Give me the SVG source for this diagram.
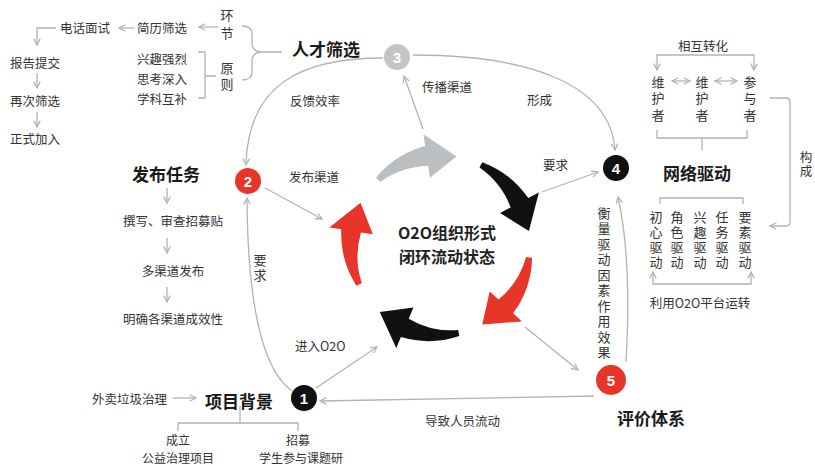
<svg xmlns="http://www.w3.org/2000/svg" width="815" height="465" viewBox="0 0 815 465">
<style>
text{font-family:'Noto Sans CJK SC','Noto Sans',sans-serif;fill:#333;font-size:12.5px;dominant-baseline:central}
.t{font-size:17px;font-weight:bold;fill:#1a1a1a}
.m{text-anchor:middle}
.s{font-size:12px}
.vt{writing-mode:vertical-rl;font-size:13px}
.ctr{font-size:16px;font-weight:bold;fill:#222;text-anchor:middle}
.ln{fill:none;stroke:#b3b3b3;stroke-width:1.3}
.ar{marker-end:url(#ah)}
.ar2{marker-start:url(#ah);marker-end:url(#ah)}
.num{fill:#fff;font-size:15px;font-weight:bold;text-anchor:middle;font-family:'Liberation Sans',Arial,sans-serif}
</style>
<defs>
<marker id="ah" viewBox="0 0 10 10" refX="9" refY="5" markerWidth="8" markerHeight="8" markerUnits="userSpaceOnUse" orient="auto-start-reverse">
<path d="M1,1 L9,5 L1,9" fill="none" stroke="#b3b3b3" stroke-width="1.6"/>
</marker>
<path id="carrow" d="M82.86,-42.22 Q99.8,-16.7 99.03,13.92 L110.91,15.59 L80.19,40.86 L67.34,9.47 L79.22,11.14 Q86.35,-14.45 77.52,-39.5 Z"/>
</defs>
<rect width="815" height="465" fill="#fff"/>

<g id="cycle">
<use href="#carrow" fill="#bcbfc1" transform="translate(440,245) rotate(-106.5)"/>
<use href="#carrow" fill="#111" transform="translate(440,245) rotate(-36)"/>
<use href="#carrow" fill="#e8352a" transform="translate(440,245) rotate(35)"/>
<use href="#carrow" fill="#111" transform="translate(440,245) rotate(105)"/>
<use href="#carrow" fill="#e8352a" transform="translate(440,245) rotate(181)"/>
<text class="ctr" x="447" y="232">O2O组织形式</text>
<text class="ctr" x="447" y="256">闭环流动状态</text>
</g>

<g id="connectors">
<path class="ln ar" d="M292,391 Q248,360 247,198"/>
<path class="ln ar" d="M316,388 L377,347"/>
<path class="ln ar" d="M594,396 L320,401"/>
<path class="ln ar" d="M525,327 L578,370"/>
<path class="ln ar" d="M626,362 Q632,260 618,197"/>
<path class="ln ar" d="M542,192 L598,172"/>
<path class="ln ar" d="M423,129 L404,76"/>
<path class="ln ar" d="M413,55 C520,55 610,80 615,150"/>
<path class="ln ar" d="M383,58 C300,58 248,85 246,165"/>
<path class="ln ar" d="M265,188 L322,219"/>
<text class="vt" x="260" y="253.5" letter-spacing="2">要求</text>
<text x="295" y="345">进入O2O</text>
<text x="425" y="420">导致人员流动</text>
<text x="543" y="164">要求</text>
<text x="422" y="86">传播渠道</text>
<text x="527" y="99">形成</text>
<text x="290" y="100">反馈效率</text>
<text x="289" y="176">发布渠道</text>
<text class="vt" x="604" y="206.5" letter-spacing="2.5">衡量驱动因素作用效果</text>
</g>

<g id="n1"><circle cx="304" cy="398" r="13" fill="#111"/><text class="num" x="304" y="398">1</text></g>
<g id="n2"><circle cx="248" cy="181" r="13" fill="#e8352a"/><text class="num" x="248" y="181">2</text></g>
<g id="n3"><circle cx="397" cy="57" r="13" fill="#c4c4c4"/><text class="num" x="397" y="57">3</text></g>
<g id="n4"><circle cx="616" cy="168" r="13" fill="#111"/><text class="num" x="616" y="168">4</text></g>
<g id="n5"><circle cx="611" cy="380" r="15" fill="#e8352a"/><text class="num" x="611" y="380">5</text></g>

<g id="talent-screening">
<text class="t" x="292" y="48">人才筛选</text>
<path class="ln" d="M282,52 L262,52 Q252,52 252,42 L252,34 Q252,26 242,26 M262,52 Q252,52 252,62 L252,72 Q252,80 242,80"/>
<text class="vt" x="227" y="8.5" letter-spacing="5">环节</text>
<text class="vt" x="227" y="61.5" letter-spacing="3">原则</text>
<path class="ln ar" d="M218,27 L199,27"/>
<text x="137" y="27">简历筛选</text>
<path class="ln ar" d="M134,28 L119,28"/>
<text x="60" y="27">电话面试</text>
<path class="ln ar" d="M56,28 L37,28 L37,45"/>
<text x="10" y="62">报告提交</text>
<path class="ln ar" d="M37,73 L37,88"/>
<text x="10" y="100">再次筛选</text>
<path class="ln ar" d="M37,112 L37,127"/>
<text x="10" y="138">正式加入</text>
<text x="137" y="58">兴趣强烈</text>
<text x="137" y="78">思考深入</text>
<text x="137" y="98">学科互补</text>
<path class="ln" d="M198,52 H205 V98 H198 M205,76 H216"/>
</g>

<g id="publish-task">
<text class="t" x="132" y="173">发布任务</text>
<path class="ln ar" d="M167,188 L167,203"/>
<text class="m" x="173" y="220">撰写、审查招募贴</text>
<path class="ln ar" d="M167,238 L167,253"/>
<text class="m" x="173" y="270">多渠道发布</text>
<path class="ln ar" d="M167,287 L167,302"/>
<text class="m" x="173" y="318">明确各渠道成效性</text>
</g>

<g id="project-background">
<text x="92" y="398">外卖垃圾治理</text>
<path class="ln ar" d="M173,398 L196,398"/>
<text class="t" x="205" y="400">项目背景</text>
<path class="ln" d="M240,406 V423 M178,431 V423 H298 V431"/>
<text class="m s" x="178" y="439">成立</text>
<text class="m s" x="178" y="457">公益治理项目</text>
<text class="m s" x="298" y="439">招募</text>
<text class="m s" x="301" y="457">学生参与课题研</text>
</g>

<g id="network-drive">
<text class="m" x="703" y="45">相互转化</text>
<path class="ln ar2" d="M657,70 V55 H754 V70"/>
<text class="vt" x="658" y="75.5" letter-spacing="3.5">维护者</text>
<text class="vt" x="702" y="75.5" letter-spacing="3.5">维护者</text>
<text class="vt" x="750" y="75.5" letter-spacing="3.5">参与者</text>
<path class="ln ar2" d="M672,81 H690"/>
<path class="ln ar2" d="M715,81 H737"/>
<path class="ln" d="M657,130 V138 H747 V130 M702,138 V150"/>
<text class="t" x="663" y="172">网络驱动</text>
<path class="ln" d="M660,204 V198 H743 V204"/>
<text class="vt" x="656" y="210.5" letter-spacing="2">初心驱动</text>
<text class="vt" x="677" y="210.5" letter-spacing="2">角色驱动</text>
<text class="vt" x="700" y="210.5" letter-spacing="2">兴趣驱动</text>
<text class="vt" x="722" y="210.5" letter-spacing="2">任务驱动</text>
<text class="vt" x="745" y="210.5" letter-spacing="2">要素驱动</text>
<path class="ln ar2" d="M653,272 V284 H751 V272"/>
<text class="m" x="700" y="302">利用O2O平台运转</text>
<path class="ln ar" d="M770,98 H786 Q790,98 790,102 V222 Q790,226 786,226 H770"/>
<text class="vt" x="806" y="150.5" letter-spacing="1.5" style="font-size:12.5px">构成</text>
</g>

<g id="evaluation">
<text class="t" x="617" y="417">评价体系</text>
</g>
</svg>
